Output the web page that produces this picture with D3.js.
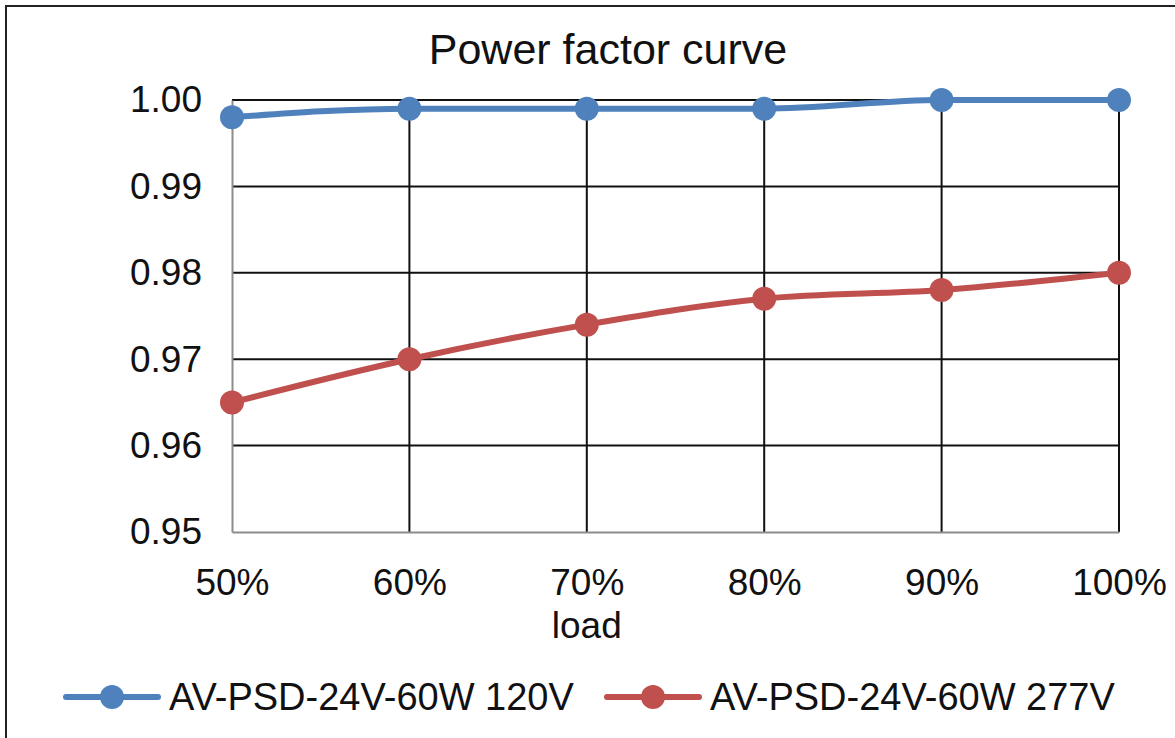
<!DOCTYPE html>
<html>
<head>
<meta charset="utf-8">
<script src="https://d3js.org/d3.v7.min.js"></script>
<style>
  body { margin: 0; background: #fff; }
  svg { display: block; font-family: "Liberation Sans", Arial, sans-serif; }
</style>
</head>
<body>
<div id="vis-holder"></div>
<script>
// Chart data
const loads = ["50%", "60%", "70%", "80%", "90%", "100%"];
const pf120 = [0.998, 0.999, 0.999, 0.999, 1.000, 1.000];
const pf277 = [0.965, 0.970, 0.974, 0.977, 0.978, 0.980];
const yTicks = [0.95, 0.96, 0.97, 0.98, 0.99, 1.00];
const seriesNames = ["AV-PSD-24V-60W 120V", "AV-PSD-24V-60W 277V"];
const seriesColors = ["#4f81bd", "#c0504d"];

const width = 1175;
const height = 738;
const plot = { left: 232, right: 1119, top: 100, bottom: 532 };

const svg = d3.select("#vis-holder")
              .append("svg")
              .attr("width", width)
              .attr("height", height);

// outer frame (runs off the right and bottom edge)
svg.append("rect")
   .attr("x", 6).attr("y", 6)
   .attr("width", 1400).attr("height", 900)
   .attr("fill", "#fff")
   .attr("stroke", "#222")
   .attr("stroke-width", 2);

// scales
const x = d3.scalePoint()
            .domain(loads)
            .range([plot.left, plot.right]);

const y = d3.scaleLinear()
            .domain([0.95, 1.00])
            .range([plot.bottom, plot.top]);

// horizontal gridlines
svg.append("g")
   .selectAll("line")
   .data(yTicks.slice(1))
   .enter()
   .append("line")
     .attr("x1", plot.left)
     .attr("x2", plot.right)
     .attr("y1", (d) => y(d))
     .attr("y2", (d) => y(d))
     .attr("stroke", "#111")
     .attr("stroke-width", 2);

// vertical gridlines
svg.append("g")
   .selectAll("line")
   .data(loads.slice(1))
   .enter()
   .append("line")
     .attr("x1", (d) => x(d))
     .attr("x2", (d) => x(d))
     .attr("y1", plot.top)
     .attr("y2", plot.bottom)
     .attr("stroke", "#111")
     .attr("stroke-width", 2);

// y axis
svg.append("g")
   .attr("transform", `translate(${plot.left},0)`)
   .call(d3.axisLeft(y).tickValues(yTicks).tickFormat(d3.format(".2f")).tickSize(0).tickPadding(30))
   .call((g) => g.select(".domain").attr("stroke", "#8c8c8c").attr("stroke-width", 2))
   .call((g) => g.selectAll("text").attr("font-size", "37px").attr("fill", "#111")
                 .attr("font-family", "Liberation Sans, Arial, sans-serif"));

// x axis
svg.append("g")
   .attr("transform", `translate(0,${plot.bottom})`)
   .call(d3.axisBottom(x).tickSize(0).tickPadding(37))
   .call((g) => g.select(".domain").attr("stroke", "#8c8c8c").attr("stroke-width", 2))
   .call((g) => g.selectAll("text").attr("font-size", "37px").attr("fill", "#111")
                 .attr("font-family", "Liberation Sans, Arial, sans-serif"));

// axis title
svg.append("text")
   .attr("x", x("70%"))
   .attr("y", 638)
   .attr("text-anchor", "middle")
   .attr("font-size", "37px")
   .attr("fill", "#111")
   .text("load");

// chart title
svg.append("text")
   .attr("x", 608)
   .attr("y", 64)
   .attr("text-anchor", "middle")
   .attr("font-size", "43px")
   .attr("fill", "#111")
   .text("Power factor curve");

// lines and markers
const line = d3.line()
               .x((d, i) => x(loads[i]))
               .y((d) => y(d))
               .curve(d3.curveMonotoneX);

[pf120, pf277].forEach((vals, s) => {
  svg.append("path")
     .datum(vals)
     .attr("d", line)
     .attr("fill", "none")
     .attr("stroke", seriesColors[s])
     .attr("stroke-width", 6)
     .attr("stroke-linecap", "round");

  svg.append("g")
     .selectAll("circle")
     .data(vals)
     .enter()
     .append("circle")
       .attr("cx", (d, i) => x(loads[i]))
       .attr("cy", (d) => y(d))
       .attr("r", 12)
       .attr("fill", seriesColors[s]);
});

// legend
const legendX = [66, 607];
const legendY = 697;
seriesNames.forEach((name, s) => {
  const g = svg.append("g").attr("transform", `translate(${legendX[s]},${legendY})`);
  g.append("line")
   .attr("x1", 0).attr("x2", 92)
   .attr("stroke", seriesColors[s])
   .attr("stroke-width", 6)
   .attr("stroke-linecap", "round");
  g.append("circle")
   .attr("cx", 46)
   .attr("r", 12)
   .attr("fill", seriesColors[s]);
  g.append("text")
   .attr("x", 103)
   .attr("y", 13)
   .attr("font-size", "38px")
   .attr("fill", "#111")
   .text(name);
});
</script>
</body>
</html>
